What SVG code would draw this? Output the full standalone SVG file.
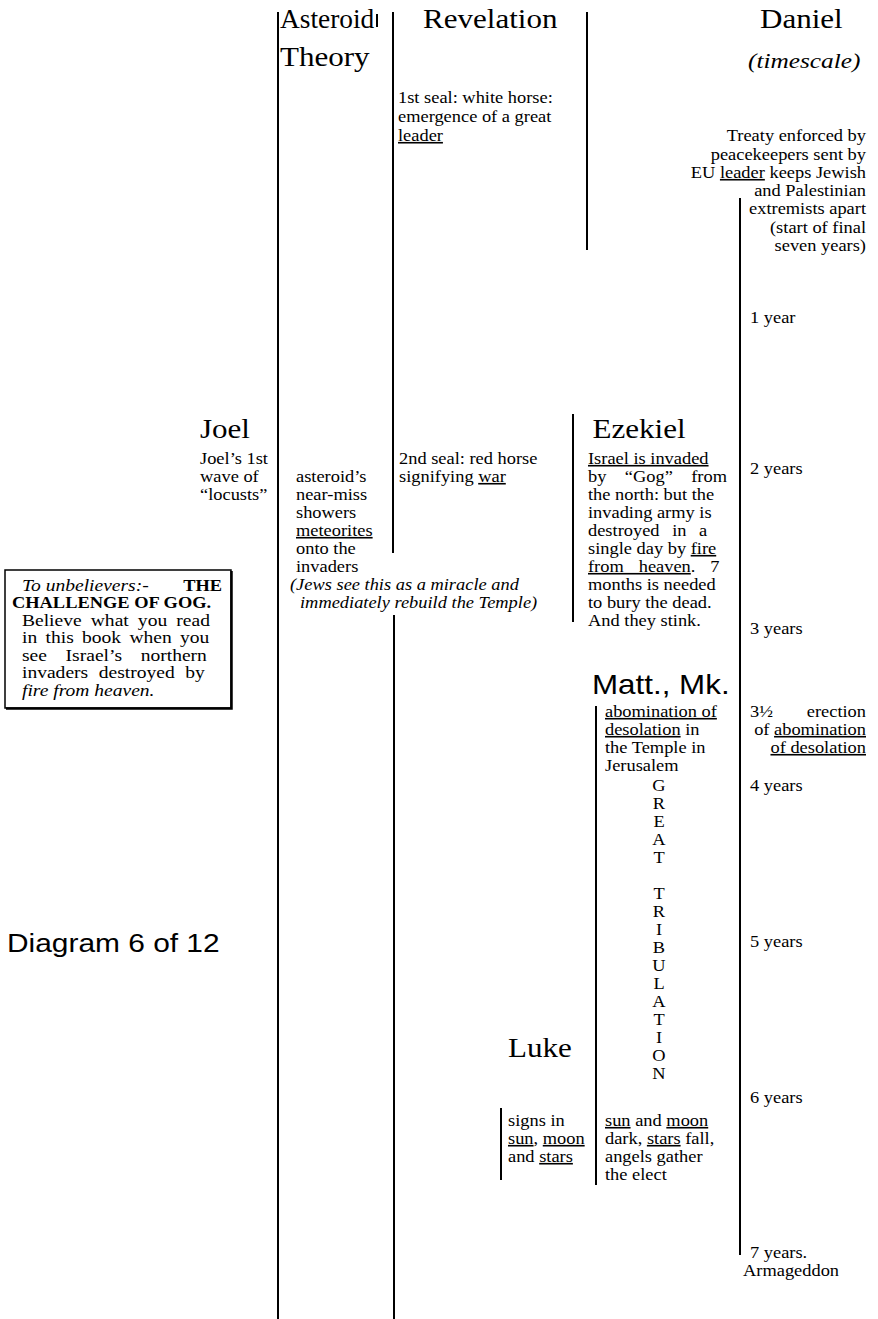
<svg xmlns="http://www.w3.org/2000/svg" width="878" height="1319" viewBox="0 0 878 1319">
<style>
text{font-family:"Liberation Serif","Times New Roman","DejaVu Serif",serif;font-size:16px;fill:#000}
.h{font-size:27px}
.it{font-style:italic}
.b{font-weight:bold}
.u{text-decoration:underline}
.sans{font-family:"Liberation Sans",Arial,sans-serif}
.e{text-anchor:end}
.m{text-anchor:middle}
.bx{font-size:17px}
.ln{stroke:#000;stroke-width:2;fill:none}
</style>
<rect width="878" height="1319" fill="#fff"/>
<g id="connectors" class="ln">
<line x1="278" y1="12" x2="278" y2="1319"/>
<line x1="377" y1="14" x2="377" y2="27"/>
<line x1="393" y1="12" x2="393" y2="553"/>
<line x1="394" y1="615" x2="394" y2="1319"/>
<line x1="587" y1="12" x2="587" y2="250"/>
<line x1="740" y1="198" x2="740" y2="1255"/>
<line x1="573" y1="414" x2="573" y2="622"/>
<line x1="596" y1="706" x2="596" y2="1185"/>
<line x1="501" y1="1108" x2="501" y2="1180"/>
</g>
<g id="asteroid-header" transform="matrix(1.15 0 0 1 280 0)"><text class="h" y="28" textLength="82" lengthAdjust="spacingAndGlyphs">Asteroid</text><text class="h" y="66">Theory</text></g>
<g id="revelation-header" transform="matrix(1.15 0 0 1 423 0)"><text class="h" y="28">Revelation</text></g>
<g id="daniel-header" transform="matrix(1.15 0 0 1 760 0)"><text class="h" y="28">Daniel</text></g>
<g id="timescale" transform="matrix(1.15 0 0 1 748 0)"><text class="it" style="font-size:22px" y="68">(timescale)</text></g>
<g id="first-seal" transform="matrix(1.15 0 0 1 398 0)"><text y="103">1st seal: white horse:</text><text y="122">emergence of a great</text><text y="141"><tspan class="u">leader</tspan></text></g>
<g id="treaty" transform="matrix(1.15 0 0 1 866 0)">
<text class="e" y="141">Treaty enforced by</text>
<text class="e" y="160">peacekeepers sent by</text>
<text class="e" y="178">EU <tspan class="u">leader</tspan> keeps Jewish</text>
<text class="e" y="196">and Palestinian</text>
<text class="e" y="214">extremists apart</text>
<text class="e" y="233">(start of final</text>
<text class="e" y="251">seven years)</text>
</g>
<g id="timescale-years">
<g transform="matrix(1.15 0 0 1 750 0)"><text y="323">1 year</text><text y="474">2 years</text><text y="634">3 years</text><text y="717">3½</text><text y="791">4 years</text><text y="947">5 years</text><text y="1103">6 years</text><text y="1258">7 years.</text></g>
<g transform="matrix(1.15 0 0 1 743 0)"><text y="1276">Armageddon</text></g>
<g transform="matrix(1.15 0 0 1 866 0)"><text class="e" y="717">erection</text><text class="e" y="735">of <tspan class="u">abomination</tspan></text><text class="e" y="753"><tspan class="u">of desolation</tspan></text></g>
</g>
<g id="joel" transform="matrix(1.15 0 0 1 200 0)"><text class="h" y="438">Joel</text><text y="464">Joel’s 1st</text><text y="482">wave of</text><text y="500">“locusts”</text></g>
<g id="asteroid-text" transform="matrix(1.15 0 0 1 296 0)"><text y="482">asteroid’s</text><text y="500">near-miss</text><text y="518">showers</text><text y="536"><tspan class="u">meteorites</tspan></text><text y="554">onto the</text><text y="572">invaders</text></g>
<g id="jews-note"><g transform="matrix(1.15 0 0 1 290 0)"><text class="it" y="590">(Jews see this as a miracle and</text></g><g transform="matrix(1.15 0 0 1 300 0)"><text class="it" y="608">immediately rebuild the Temple)</text></g></g>
<g id="second-seal" transform="matrix(1.15 0 0 1 399 0)"><text y="464">2nd seal: red horse</text><text y="482">signifying <tspan class="u">war</tspan></text></g>
<g id="ezekiel" transform="matrix(1.15 0 0 1 588 0)">
<text class="h" x="4" y="438">Ezekiel</text>
<text y="464"><tspan class="u">Israel is invaded</tspan></text>
<text y="482" style="word-spacing:12px">by “Gog” from</text>
<text y="500">the north: but the</text>
<text y="518">invading army is</text>
<text y="536" style="word-spacing:7px">destroyed in a</text>
<text y="554">single day by <tspan class="u">fire</tspan></text>
<text y="572" style="word-spacing:9px"><tspan class="u">from heaven</tspan>. 7</text>
<text y="590">months is needed</text>
<text y="608">to bury the dead.</text>
<text y="626">And they stink.</text>
</g>
<g id="challenge">
<rect x="5" y="570" width="226" height="138" fill="none" stroke="#000" stroke-width="1.5"/>
<path d="M6 708.5H231.5V571" fill="none" stroke="#000" stroke-width="2.5"/>
<g transform="matrix(1.15 0 0 1 22 0)"><text class="it bx" y="591">To unbelievers:-</text></g>
<g transform="matrix(1.15 0 0 1 222 0)"><text class="b e" y="591">THE</text></g>
<g transform="matrix(1.15 0 0 1 12 0)"><text class="b" y="608">CHALLENGE OF GOG.</text></g>
<g transform="matrix(1.15 0 0 1 22 0)"><text class="bx" y="626" style="word-spacing:3.7px">Believe what you read</text><text class="bx" y="643" style="word-spacing:3px">in this book when you</text><text class="bx" y="661" style="word-spacing:12px">see Israel’s northern</text><text class="bx" y="678" style="word-spacing:5px">invaders destroyed by</text><text class="bx it" y="696">fire from heaven.</text></g>
</g>
<g id="diagram-label" transform="matrix(1.15 0 0 1 7 0)"><text class="sans" style="font-size:26px" y="952">Diagram 6 of 12</text></g>
<g id="matt-mk">
<g transform="matrix(1.12 0 0 1 592 0)"><text class="sans" style="font-size:28px" y="694">Matt., Mk.</text></g>
<g transform="matrix(1.15 0 0 1 605 0)"><text y="717"><tspan class="u">abomination of</tspan></text><text y="735"><tspan class="u">desolation</tspan> in</text><text y="753">the Temple in</text><text y="771">Jerusalem</text>
<text y="1126"><tspan class="u">sun</tspan> and <tspan class="u">moon</tspan></text><text y="1144">dark, <tspan class="u">stars</tspan> fall,</text><text y="1162">angels gather</text><text y="1180">the elect</text></g>
<g transform="matrix(1.15 0 0 1 659 0)">
<text class="m" y="791">G</text><text class="m" y="809">R</text><text class="m" y="827">E</text><text class="m" y="845">A</text><text class="m" y="863">T</text>
<text class="m" y="899">T</text><text class="m" y="917">R</text><text class="m" y="935">I</text><text class="m" y="953">B</text><text class="m" y="971">U</text><text class="m" y="989">L</text><text class="m" y="1007">A</text><text class="m" y="1025">T</text><text class="m" y="1043">I</text><text class="m" y="1061">O</text><text class="m" y="1079">N</text>
</g>
</g>
<g id="luke" transform="matrix(1.15 0 0 1 508 0)"><text class="h" y="1057">Luke</text><text y="1126">signs in</text><text y="1144"><tspan class="u">sun</tspan>, <tspan class="u">moon</tspan></text><text y="1162">and <tspan class="u">stars</tspan></text></g>
</svg>
